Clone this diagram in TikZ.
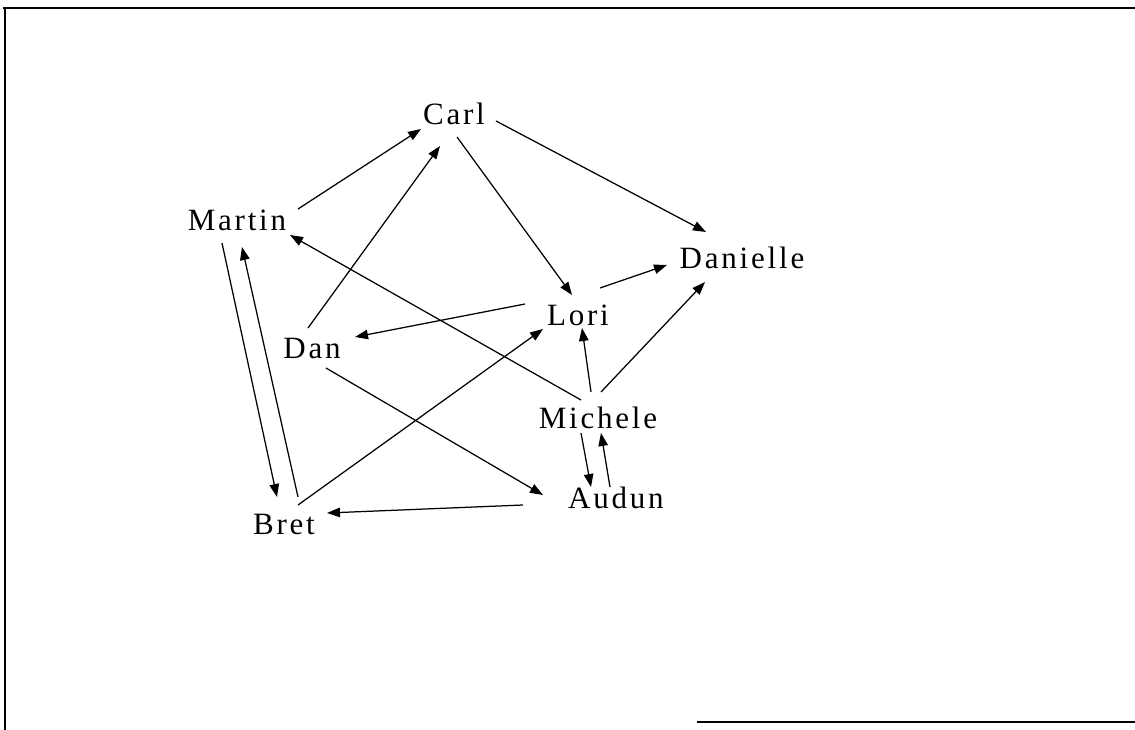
\documentclass[tikz,border=0pt]{standalone}
\usepackage{fontspec}
\setmainfont{Liberation Serif}[LetterSpace=9]
\usetikzlibrary{calc,arrows.meta}
\begin{document}
\begin{tikzpicture}[x=1pt,y=-1pt,
  person/.style={anchor=base,inner sep=0pt,font=\fontsize{31}{33}\selectfont},
  edge/.style={line width=1.25pt,-{Triangle[length=13pt,width=9.5pt]}},
  frame/.style={line width=1.8pt}]
\useasboundingbox (0,0) rectangle (1135,730);
\draw[frame] (3,8) -- (1135,8);
\draw[frame] (5,8) -- (5,730);
\draw[line width=1.4pt] (697,722) -- (1135,722);

\node[person] (Carl) at (454,125) {Carl};
\node[person] (Martin) at (237,230) {Martin};
\node[person] (Danielle) at (742,269) {Danielle};
\node[person] (Lori) at (578,325) {Lori};
\node[person] (Dan) at (312,358) {Dan};
\node[person] (Michele) at (598,428) {Michele};
\node[person] (Audun) at (616,508) {Audun};
\node[person] (Bret) at (284,534) {Bret};

\draw[edge] ($(Martin.base)+(61,-21)$) -- ($(Carl.base)+(-33,4)$);
\draw[edge] ($(Dan.base)+(-4,-30)$) -- ($(Carl.base)+(-14,21)$);
\draw[edge] ($(Carl.base)+(42,-4)$) -- ($(Danielle.base)+(-36,-37)$);
\draw[edge] ($(Carl.base)+(3,12)$) -- ($(Lori.base)+(-6,-30)$);
\draw[edge] ($(Lori.base)+(22,-37)$) -- ($(Danielle.base)+(-75,-4)$);
\draw[edge] ($(Lori.base)+(-53,-21)$) -- ($(Dan.base)+(43,-21)$);
\draw[edge] ($(Michele.base)+(-17,-28)$) -- ($(Martin.base)+(53,5)$);
\draw[edge] ($(Michele.base)+(-7,-36)$) -- ($(Lori.base)+(4,3)$);
\draw[edge] ($(Michele.base)+(3,-36)$) -- ($(Danielle.base)+(-37,13)$);
\draw[edge] ($(Michele.base)+(-17,5)$) -- ($(Audun.base)+(-25,-21)$);
\draw[edge] ($(Audun.base)+(-6,-21)$) -- ($(Michele.base)+(3,5)$);
\draw[edge] ($(Dan.base)+(14,10)$) -- ($(Audun.base)+(-73,-13)$);
\draw[edge] ($(Audun.base)+(-93,-3)$) -- ($(Bret.base)+(43,-21)$);
\draw[edge] ($(Bret.base)+(14,-29)$) -- ($(Lori.base)+(-35,4)$);
\draw[edge] ($(Martin.base)+(-15,13)$) -- ($(Bret.base)+(-7,-37)$);
\draw[edge] ($(Bret.base)+(14,-37)$) -- ($(Martin.base)+(5,17)$);
\end{tikzpicture}
\end{document}
